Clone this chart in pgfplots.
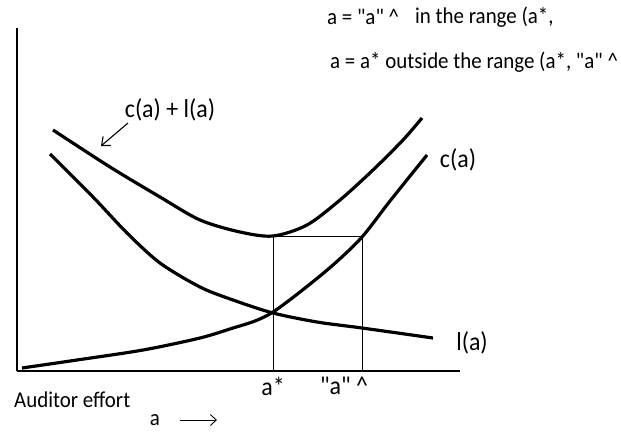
\documentclass[border=0pt]{standalone}
\usepackage{pgfplots}
\pgfplotsset{compat=1.18}
\usepackage{fontspec}
\setmainfont{Carlito}
\usetikzlibrary{arrows.meta}
\newcommand{\q}{\textquotedbl}
\begin{document}
\begin{tikzpicture}[
    big/.style={font=\fontsize{24}{28}\selectfont, yscale=1.08},
    med/.style={font=\fontsize{21}{25}\selectfont, yscale=1.08},
]
\begin{axis}[
    x=1bp, y=1bp,
    xmin=17, xmax=460,
    ymin=0, ymax=343,
    axis lines=left,
    axis line style={-, line width=1.5pt},
    ticks=none,
    clip=false,
]
% page frame (621 x 431)
\path (axis cs:0,-60) rectangle (axis cs:621,371);

% c(a)
\addplot[black, line width=3.2pt, smooth, tension=0.5] coordinates {
    (22,3) (77,11) (143,21) (200,33) (233,43) (255,50) (273,59) (300,79) (333,106) (362,134) (390,170) (427,216)
};
% l(a)
\addplot[black, line width=3.2pt, smooth, tension=0.5] coordinates {
    (50,217) (93,174) (127,138) (160,108) (200,84) (233,71) (273,58) (317,49) (362,43) (433,33)
};
% c(a) + l(a)
\addplot[black, line width=3.2pt, smooth, tension=0.5] coordinates {
    (53,241) (110,204) (160,174) (200,151) (240,139) (273,135) (307,146) (340,171) (373,201) (403,231) (422,253)
};
% box between a* and "a"^
\addplot[black, line width=0.9pt] coordinates {(273,0) (273,135) (362,135) (362,0)};

\node[big] at (axis cs:458,211) {c(a)};
\node[big] at (axis cs:472,28) {l(a)};
\node[big] at (axis cs:170,261) {c(a) + l(a)};
\draw[-{Straight Barb[length=7pt,width=12pt]}, line width=1.1pt] (axis cs:128,248) -- (axis cs:101,225);

\node[big] at (axis cs:273,-15) {a*};
\node[big] at (axis cs:344,-15) {\q a\q\ \textasciicircum};
\node[med, anchor=west, inner sep=0pt] at (axis cs:14,-29) {Auditor effort};
\node[med] at (axis cs:155,-49) {a};
\draw[-{Straight Barb[length=6pt,width=11pt]}, line width=0.9pt] (axis cs:180,-49) -- (axis cs:217,-49);

\node[med, anchor=west, inner sep=0pt] at (axis cs:327,354) {a = \q a\q\ \textasciicircum};
\node[med, anchor=west, inner sep=0pt] at (axis cs:415,354) {in the range (a*,};
\node[med, anchor=west, inner sep=0pt] at (axis cs:330,309) {a = a* outside the range (a*, \q a\q\ \textasciicircum};
\end{axis}
\end{tikzpicture}
\end{document}
